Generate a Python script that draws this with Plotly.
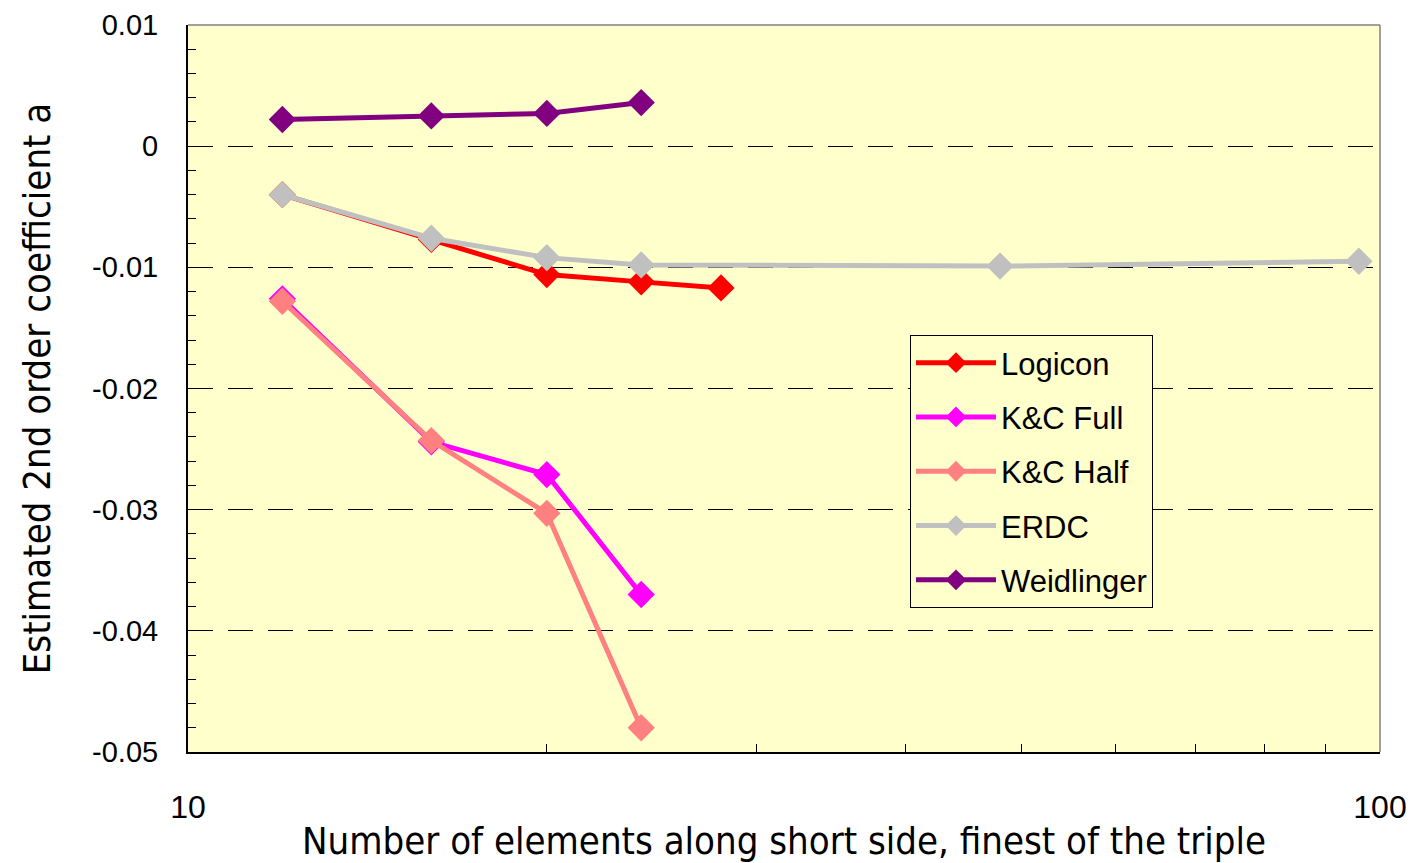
import plotly.graph_objects as go

# Mesh sizes (finest of each triple) and fitted 2nd-order coefficients
x_short = [12, 16, 20, 24]
x_logicon = [12, 16, 20, 24, 28]
x_erdc = [12, 16, 20, 24, 48, 96]

logicon = [-0.0040, -0.0077, -0.0106, -0.0112, -0.0117]
kc_full = [-0.0126, -0.0244, -0.0271, -0.0370]
kc_half = [-0.0128, -0.0243, -0.0303, -0.0480]
erdc = [-0.0040, -0.0076, -0.0092, -0.0098, -0.0099, -0.0095]
weidlinger = [0.0022, 0.0025, 0.0027, 0.0036]

series = [
    ("Logicon", x_logicon, logicon, "#FF0000"),
    ("K&C Full", x_short, kc_full, "#FF00FF"),
    ("K&C Half", x_short, kc_half, "#FF8080"),
    ("ERDC", x_erdc, erdc, "#C0C0C0"),
    ("Weidlinger", x_short, weidlinger, "#800080"),
]

y_ticks = [0.01, 0, -0.01, -0.02, -0.03, -0.04, -0.05]
y_tick_text = ["0.01", "0", "-0.01", "-0.02", "-0.03", "-0.04", "-0.05"]
x_ticks = [10, 100]

NARROW = "DejaVu Sans Condensed, Liberation Sans Narrow, sans-serif"
SANS = "Liberation Sans, Arial, sans-serif"

fig = go.Figure()
for name, xs, ys, color in series:
    fig.add_trace(go.Scatter(
        x=xs, y=ys, name=name, mode="lines+markers",
        legendgroup=name,
        line=dict(color=color, width=5),
        marker=dict(symbol="diamond", size=21, color=color,
                    line=dict(color=color, width=0)),
    ))

fig.update_layout(
    width=1412, height=863,
    margin=dict(l=188, r=32, t=25, b=111),
    paper_bgcolor="white",
    plot_bgcolor="#FFFFCC",
    showlegend=True,
    legend=dict(
        x=0.6057, y=0.5736, xanchor="left", yanchor="top",
        bgcolor="#FFFFCC", bordercolor="black", borderwidth=1,
        font=dict(family=SANS, size=31, color="black"),
        itemwidth=80, tracegroupgap=11,
    ),
    xaxis=dict(
        type="log", range=[1, 2], automargin=False,
        tickvals=x_ticks, ticktext=[str(v) for v in x_ticks],
        ticks="", showgrid=False, zeroline=False,
        showline=True, linecolor="black", linewidth=2,
        tickfont=dict(family=SANS, size=32, color="black"),
        ticklabelstandoff=26,
        minor=dict(tickvals=[20, 30, 40, 50, 60, 70, 80, 90],
                   ticks="inside", ticklen=8, tickcolor="black",
                   showgrid=False),
        title=dict(text="Number of elements along short side, finest of the triple",
                   font=dict(family=NARROW, size=38, color="black"),
                   standoff=8),
    ),
    yaxis=dict(
        range=[-0.05, 0.01], automargin=False,
        tickvals=y_ticks, ticktext=y_tick_text,
        ticks="inside", ticklen=9, tickcolor="black",
        showgrid=True, gridcolor="black", gridwidth=1,
        griddash="25px,15px",
        zeroline=False,
        showline=True, linecolor="black", linewidth=2,
        tickfont=dict(family=SANS, size=29, color="black"),
        ticklabelstandoff=22,
        minor=dict(dtick=0.002, ticks="inside", ticklen=8,
                   tickcolor="black", showgrid=False),
        title=dict(text="Estimated 2nd order coefficient a",
                   font=dict(family=NARROW, size=38, color="black"),
                   standoff=30),
    ),
    shapes=[
        # grey frame on the top and right edges of the plot area
        dict(type="line", xref="x domain", yref="y domain",
             x0=0, x1=1, y0=1, y1=1, line=dict(color="#808080", width=1.5)),
        dict(type="line", xref="x domain", yref="y domain",
             x0=1, x1=1, y0=0, y1=1, line=dict(color="#808080", width=1.5)),
    ],
)

fig.write_html("out.html")
